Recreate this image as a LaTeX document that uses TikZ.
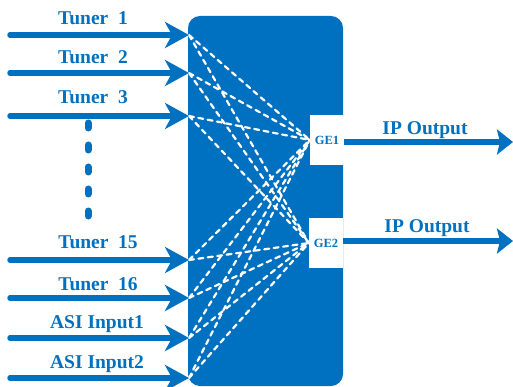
\documentclass[tikz,border=0pt]{standalone}
\usepackage{fontspec}
\setmainfont{Liberation Serif}
\usetikzlibrary{positioning,arrows.meta}
\definecolor{ipblue}{RGB}{0,112,192}

\begin{document}
\begin{tikzpicture}[x=1pt, y=-1pt,
    lbl/.style={text=ipblue, inner sep=0pt, font=\bfseries\fontsize{19.5}{20}\selectfont},
    mux/.style={fill=ipblue, rounded corners=12pt, minimum width=155pt, minimum height=370pt},
    gebox/.style={fill=white, inner sep=0pt, minimum width=34pt, minimum height=50pt,
                  text=ipblue, font=\bfseries\fontsize{12.5}{13}\selectfont},
    inarrow/.style={draw=ipblue, line width=5.5pt, line cap=round,
                    -{Stealth[length=24pt, width=26pt, inset=7pt]}},
    outarrow/.style={draw=ipblue, line width=5.5pt, -{Stealth[length=16pt, width=25pt, inset=3pt]}},
    link/.style={draw=white, line width=2.2pt, dash pattern=on 5pt off 4.5pt, line cap=round},
    vdots/.style={draw=ipblue, line width=7pt, dash pattern=on 5pt off 17pt, line cap=round}]

\useasboundingbox (0,0) rectangle (513,387);

\node[mux] (mux) at (265.5,201) {};
\node[gebox] (ge1) at (327,140) {GE1};
\node[gebox] (ge2) at (326,243) {GE2};

% inputs
\coordinate (s1) at (10,35);   \coordinate (in1) at (189,35);
\coordinate (s2) at (10,73);   \coordinate (in2) at (189,73);
\coordinate (s3) at (10,116);  \coordinate (in3) at (189,116);
\coordinate (s15) at (10,260); \coordinate (in15) at (189,260);
\coordinate (s16) at (10,298); \coordinate (in16) at (189,298);
\coordinate (sa1) at (10,338); \coordinate (ina1) at (189,338);
\coordinate (sa2) at (10,378); \coordinate (ina2) at (189,378);

\node[lbl] (t1) at (93,18) {Tuner~~1};
\node[lbl] (t2) at (93,57) {Tuner~~2};
\node[lbl] (t3) at (93,97) {Tuner~~3};
\node[lbl] (t15) at (98,242) {Tuner~~15};
\node[lbl] (t16) at (98,284) {Tuner~~16};
\node[lbl] (a1) at (97,324) {ASI Input1};
\node[lbl] (a2) at (97,364) {ASI Input2};

\coordinate (d1) at (88,123);
\coordinate (d2) at (88,226);
\draw[vdots] (d1) -- (d2);

% crossbar links
\path[every edge/.style=link]
    (in1) edge (ge1.west)  (in1) edge (ge2.west)
    (in2) edge (ge1.west)  (in2) edge (ge2.west)
    (in3) edge (ge1.west)  (in3) edge (ge2.west)
    (in15) edge (ge1.west) (in15) edge (ge2.west)
    (in16) edge (ge1.west) (in16) edge (ge2.west)
    (ina1) edge (ge1.west) (ina1) edge (ge2.west)
    (ina2) edge (ge1.west) (ina2) edge (ge2.west);

\path[every edge/.style=inarrow]
    (s1) edge (in1)
    (s2) edge (in2)
    (s3) edge (in3)
    (s15) edge (in15)
    (s16) edge (in16)
    (sa1) edge (ina1)
    (sa2) edge (ina2);

% outputs
\coordinate (o1) at (513,142);
\coordinate (o2) at (513,241);
\draw[outarrow] (ge1.east |- o1) -- (o1);
\draw[outarrow] (ge2.east |- o2) -- (o2);
\node[lbl] (ip1) at (425,130) {IP Output};
\node[lbl] (ip2) at (427,228) {IP Output};
\end{tikzpicture}
\end{document}
